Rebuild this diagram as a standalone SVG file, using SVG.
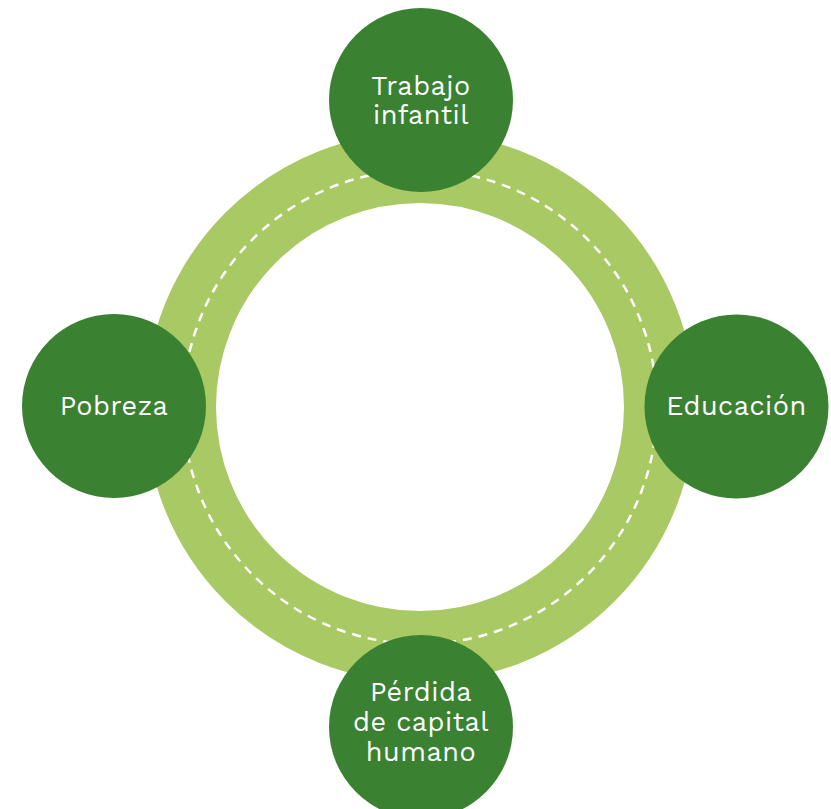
<svg xmlns="http://www.w3.org/2000/svg" width="831" height="809" viewBox="0 0 831 809">
<style>
.node{fill:#3a8232}
.lbl{font-family:"Work Sans","Open Sans","Liberation Sans",sans-serif;font-size:27px;letter-spacing:0.5px;fill:#ffffff;text-anchor:middle}
</style>
<rect width="831" height="809" fill="#ffffff"/>
<g id="connectors">
<circle cx="420" cy="407" r="239.5" fill="none" stroke="#a8c963" stroke-width="71"/>
<circle cx="420" cy="407" r="237" fill="none" stroke="#ffffff" stroke-width="2.5" stroke-dasharray="9 7"/>
</g>
<g id="trabajo">
<circle class="node" cx="421" cy="100" r="92"/>
<text class="lbl" x="421" y="95">Trabajo</text>
<text class="lbl" x="421" y="124">infantil</text>
</g>
<g id="pobreza">
<circle class="node" cx="114" cy="406" r="92"/>
<text class="lbl" x="114" y="415">Pobreza</text>
</g>
<g id="educacion">
<circle class="node" cx="736.5" cy="406.5" r="92"/>
<text class="lbl" x="736.5" y="415">Educación</text>
</g>
<g id="perdida">
<circle class="node" cx="421" cy="727" r="92"/>
<text class="lbl" x="421" y="701">Pérdida</text>
<text class="lbl" x="421" y="731">de capital</text>
<text class="lbl" x="421" y="761">humano</text>
</g>
</svg>
